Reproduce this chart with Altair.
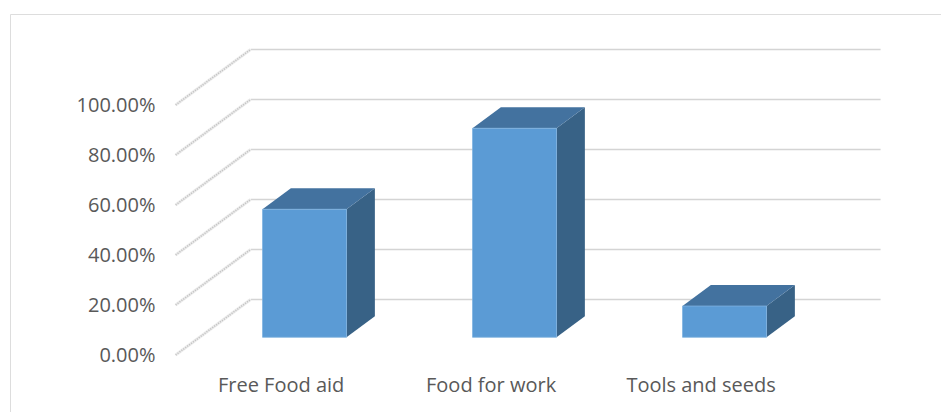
import json
import altair as alt
import pandas as pd

# ---- data ----
categories = ["Free Food aid", "Food for work", "Tools and seeds"]
values = [51.2, 83.6, 12.5]          # percent
ticks = [0, 20, 40, 60, 80, 100]     # percent tick positions

# ---- 3D projection parameters (style) ----
KX = 75 / 210      # horizontal shift (category units) for full depth
KV = 22.2          # vertical shift (percent units) for full depth
HW = 0.2           # half bar width (category units)
D0, D1 = 0.319, 0.697   # front/back depth of the bars

FRONT = "#5B9BD5"
TOP = "#43729F"
SIDE = "#386286"
GRID = "#d4d4d4"
TEXT = "#595959"

xs = alt.Scale(domain=[-1.2886, 3.1448], nice=False, zero=False)
ys = alt.Scale(domain=[-22.8, 136.4], nice=False, zero=False)

label_expr = json.dumps(categories) + "[datum.value]"
xaxis = alt.Axis(values=list(range(len(categories))), labelExpr=label_expr,
                 orient="bottom", offset=-42, domain=False, ticks=False, tickSize=0,
                 grid=False, labelPadding=5, labelFont="Open Sans", labelFontSize=20,
                 labelColor=TEXT, title=None, labelOverlap=False)
yaxis = alt.Axis(values=ticks, labelExpr="format(datum.value/100, '.2%')",
                 orient="left", offset=-165, domain=False, ticks=False, tickSize=0,
                 grid=False, labelPadding=20, labelFont="Open Sans", labelFontSize=20,
                 labelColor=TEXT, title=None, labelBaseline="middle")


def X(f):
    return alt.X(f, type="quantitative", scale=xs, axis=xaxis, stack=None)


def Y(f):
    return alt.Y(f, type="quantitative", scale=ys, axis=yaxis, stack=None)


lo, hi = -0.5, len(categories) - 0.5

# back wall gridlines
back = pd.DataFrame({"x": [lo + KX] * len(ticks), "x2": [hi + KX] * len(ticks),
                     "y": [t + KV for t in ticks]})
# left wall gridlines
side_wall = pd.DataFrame({"x": [lo] * len(ticks), "x2": [lo + KX] * len(ticks),
                          "y": ticks, "y2": [t + KV for t in ticks]})

front_rows, top_rows, side_rows = [], [], []
for i, (c, v) in enumerate(zip(categories, values)):
    front_rows.append({"c": c, "x": i - HW + D0 * KX, "x2": i + HW + D0 * KX,
                       "y": D0 * KV, "y2": v + D0 * KV})
    for d in (D0, D1):
        top_rows.append({"c": c, "y": v + d * KV, "x": i - HW + d * KX, "x2": i + HW + d * KX})
        side_rows.append({"c": c, "x": i + HW + d * KX, "y": d * KV, "y2": v + d * KV})

front_df = pd.DataFrame(front_rows)
top_df = pd.DataFrame(top_rows)
side_df = pd.DataFrame(side_rows)

back_layer = alt.Chart(back).mark_rule(color=GRID, strokeWidth=1.6).encode(
    x=X("x"), x2="x2", y=Y("y"))
wall_soft = alt.Chart(side_wall).mark_rule(color="#ececec", strokeWidth=3).encode(
    x=X("x"), x2="x2", y=Y("y"), y2="y2")
wall_layer = alt.Chart(side_wall).mark_rule(color="#c4c4c4", strokeWidth=1.6,
                                            strokeDash=[1.2, 1.2]).encode(
    x=X("x"), x2="x2", y=Y("y"), y2="y2")
side_layer = alt.Chart(side_df).mark_area(orient="vertical", color=SIDE).encode(
    x=X("x"), y=Y("y"), y2="y2", detail="c:N")
top_layer = alt.Chart(top_df).mark_area(orient="horizontal", color=TOP).encode(
    y=Y("y"), x=X("x"), x2="x2", detail="c:N")
front_layer = alt.Chart(front_df).mark_rect(color=FRONT, stroke="#7fb2e0",
                                            strokeWidth=0.8).encode(
    x=X("x"), x2="x2", y=Y("y"), y2="y2")

chart = alt.layer(back_layer, wall_soft, wall_layer, side_layer, top_layer, front_layer).properties(
    width=931, height=398,
    padding={"left": 10, "top": 14, "right": 0, "bottom": 0},
    autosize=alt.AutoSizeParams(type="none"),
).configure_view(stroke="#d9d9d9", strokeWidth=1.2).configure(background="white")

chart.save("out.html", embed_options={"renderer": "svg", "actions": False})
